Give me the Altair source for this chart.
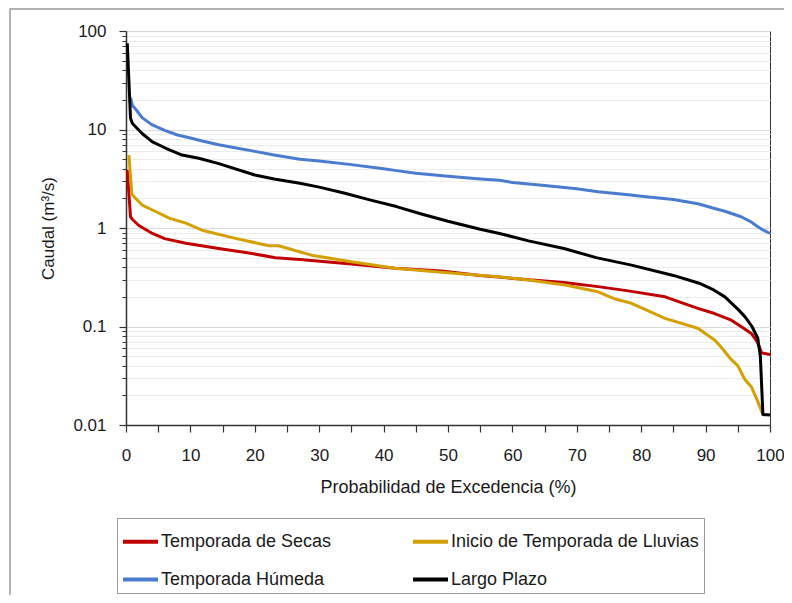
import altair as alt
import pandas as pd

series_names = ["Temporada de Secas", "Inicio de Temporada de Lluvias",
                "Temporada Húmeda", "Largo Plazo"]
series_colors = ["#C00000", "#D4A000", "#4A7BCF", "#000000"]

# Temporada de Secas
p_secas = [0.2, 0.7, 1, 2, 4.1, 6, 9.3, 14.4, 19.6, 23.2, 27, 31, 35, 41.8, 49, 55,
           63, 68, 73.3, 78, 83.7, 88.8, 91, 94, 95.5, 97.1, 98, 98.7, 100]
q_secas = [3.9, 1.3, 1.22, 1.06, 0.88, 0.78, 0.70, 0.62, 0.55, 0.50, 0.48, 0.455, 0.43,
           0.39, 0.365, 0.33, 0.296, 0.28, 0.254, 0.23, 0.20, 0.153, 0.138, 0.116, 0.10,
           0.085, 0.07, 0.054, 0.052]

# Inicio de Temporada de Lluvias
p_inicio = [0.45, 0.9, 1, 2.5, 4.6, 6.7, 9.3, 11.8, 17, 22.2, 23.7, 28.8, 35, 41.8, 49,
            57.8, 62.5, 68.2, 73.3, 76, 78.5, 83.7, 88.8, 91.4, 92.4, 94, 95, 96.1, 97.1,
            98, 98.9, 99.2]
q_inicio = [5.5, 2.25, 2.16, 1.71, 1.47, 1.26, 1.12, 0.95, 0.785, 0.66, 0.66, 0.53, 0.455,
            0.39, 0.355, 0.32, 0.296, 0.264, 0.225, 0.19, 0.172, 0.121, 0.096, 0.073,
            0.062, 0.046, 0.04, 0.029, 0.0245, 0.018, 0.0128, 0.0126]

# Temporada Húmeda
p_humeda = [0.7, 1, 1.7, 2.5, 4, 6, 8, 10, 12, 14.4, 16.5, 20, 23, 27, 30, 35, 40, 42.3,
            45, 50, 55, 58, 60, 65, 70, 73.3, 78, 80, 85, 88.8, 91.4, 93, 95.5, 97, 98.1,
            99, 100]
q_humeda = [21, 17.5, 15.5, 13.2, 11.2, 9.8, 8.8, 8.2, 7.6, 7.0, 6.6, 6.0, 5.5, 5.0, 4.8,
            4.4, 4.0, 3.8, 3.6, 3.35, 3.15, 3.05, 2.9, 2.7, 2.5, 2.33, 2.17, 2.1, 1.95,
            1.76, 1.58, 1.48, 1.30, 1.16, 1.03, 0.95, 0.88]

# Largo Plazo
p_largo = [0.2, 0.7, 1, 2.5, 4.1, 6.2, 8.7, 11.3, 14.4, 20, 23, 27, 30, 34, 38, 42, 46,
           50, 55, 58, 62.5, 68, 73, 78.5, 85, 89, 91, 93, 95, 96.1, 97.2, 98.1, 98.5,
           98.9, 100]
q_largo = [75, 13, 11.5, 9.1, 7.5, 6.45, 5.5, 5.1, 4.5, 3.45, 3.15, 2.85, 2.6, 2.25, 1.92,
           1.65, 1.38, 1.17, 0.97, 0.88, 0.74, 0.62, 0.5, 0.42, 0.33, 0.275, 0.24, 0.2,
           0.15, 0.126, 0.1, 0.076, 0.05, 0.0128, 0.0126]

major_ticks = [0.01, 0.1, 1, 10, 100]
minor_ticks = [0.02, 0.03, 0.04, 0.05, 0.06, 0.07, 0.08, 0.09,
               0.2, 0.3, 0.4, 0.5, 0.6, 0.7, 0.8, 0.9,
               2, 3, 4, 5, 6, 7, 8, 9,
               20, 30, 40, 50, 60, 70, 80, 90]
x_ticks = list(range(0, 101, 5))

rows = []
for name, ps, qs in [(series_names[0], p_secas, q_secas),
                     (series_names[1], p_inicio, q_inicio),
                     (series_names[2], p_humeda, q_humeda),
                     (series_names[3], p_largo, q_largo)]:
    for i, (p, q) in enumerate(zip(ps, qs)):
        rows.append({"serie": name, "p": p, "q": q, "i": i})
df = pd.DataFrame(rows)

FONT = "Arial, Liberation Sans, sans-serif"
y_scale = alt.Scale(type="log", domain=[0.01, 100], nice=False)
x_scale = alt.Scale(domain=[0, 100], nice=False)

frame = alt.Chart(pd.DataFrame({"a": [0]})).mark_rect(
    fillOpacity=0, stroke="#9a9a9a", strokeWidth=1.5
).encode(x=alt.value(-116), x2=alt.value(900), y=alt.value(-22), y2=alt.value(900))

minor_layer = alt.Chart(pd.DataFrame({"v": minor_ticks})).mark_tick(opacity=0).encode(
    y=alt.Y("v:Q", scale=y_scale,
            axis=alt.Axis(values=minor_ticks, orient="left", labels=False, tickSize=4,
                          domain=False, grid=True, gridColor="#ececec", gridWidth=1,
                          title=None, tickColor="#333333", tickWidth=1))
)

lines = alt.Chart(df).mark_line(strokeWidth=3, strokeJoin="round").encode(
    x=alt.X("p:Q", scale=x_scale,
            axis=alt.Axis(values=x_ticks, labelExpr="datum.value % 10 == 0 ? datum.label : ''",
                          grid=False, tickSize=7, labelPadding=15, titlePadding=15,
                          title="Probabilidad de Excedencia (%)", titleFontSize=18,
                          domainColor="#333333", domainWidth=1.5, tickColor="#333333",
                          tickWidth=1.2, labelFlush=False)),
    y=alt.Y("q:Q", scale=y_scale,
            axis=alt.Axis(values=major_ticks, orient="left", format=".2~f", tickSize=7,
                          labelPadding=13, titlePadding=15, grid=True, gridColor="#d9d9d9",
                          gridWidth=1, title="Caudal (m³/s)", domainColor="#333333",
                          domainWidth=1.5, tickColor="#333333", tickWidth=1.2)),
    color=alt.Color("serie:N", scale=alt.Scale(domain=series_names, range=series_colors),
                    legend=alt.Legend(title=None, orient="none", legendX=-9, legendY=487,
                                      direction="horizontal",
                                      columns=2, symbolType="stroke", symbolStrokeWidth=4,
                                      symbolSize=1225, labelOffset=1, columnPadding=73,
                                      rowPadding=9, padding=4, strokeColor="#999999",
                                      fillColor="white", labelFontSize=18, labelFont=FONT,
                                      labelColor="#1a1a1a", labelLimit=400)),
    order="i:Q",
)

chart = alt.layer(frame, minor_layer, lines).resolve_axis(y="independent").properties(
    width=644, height=394,
    autosize=alt.AutoSizeParams(type="none"),
    padding={"left": 118, "top": 23, "right": 14, "bottom": 170},
    background="white",
).configure_view(stroke="#333333", strokeWidth=1).configure_axis(
    labelFont=FONT, titleFont=FONT, labelFontSize=17, titleFontSize=17,
    labelColor="#1a1a1a", titleColor="#1a1a1a", titleFontWeight="normal",
)

chart.save("out.html", embed_options={"renderer": "svg", "actions": False})
